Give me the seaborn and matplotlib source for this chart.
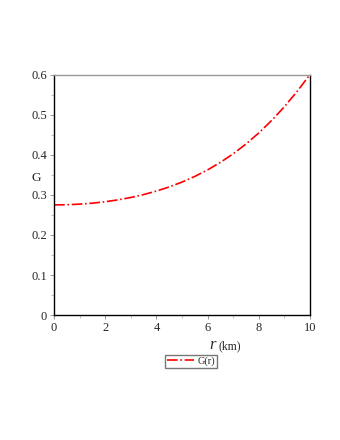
import numpy as np
import pandas as pd
import matplotlib
matplotlib.use("Agg")
import matplotlib.pyplot as plt
import seaborn as sns

# values
r_km = [0.0, 0.5, 1.0, 1.5, 2.0, 2.5, 3.0, 3.5, 4.0, 4.5, 5.0,
        5.5, 6.0, 6.5, 7.0, 7.5, 8.0, 8.5, 9.0, 9.5, 10.0]
G_vals = [0.2750, 0.2755, 0.2770, 0.2794, 0.2830, 0.2877, 0.2936, 0.3009,
          0.3096, 0.3200, 0.3321, 0.3463, 0.3626, 0.3814, 0.4029, 0.4273,
          0.4550, 0.4860, 0.5205, 0.5590, 0.6010]
x_ticks = [0, 2, 4, 6, 8, 10]
y_ticks = [0, 0.1, 0.2, 0.3, 0.4, 0.5, 0.6]

df = pd.DataFrame({"r": r_km, "G": G_vals})

sns.set_style("white")
plt.rcParams["font.family"] = ["Liberation Serif", "DejaVu Serif"]

fig = plt.figure(figsize=(3.4, 4.4), dpi=100)
ax = fig.add_axes([0.159, 0.284, 0.753, 0.546])

sns.lineplot(data=df, x="r", y="G", ax=ax, color="red", linestyle="-.",
             linewidth=1.2, label="G(r)", legend=False)

ax.set_xlim(0, 10)
ax.set_ylim(0, 0.6)
ax.set_xticks(x_ticks)
ax.set_xticklabels([str(t) for t in x_ticks])
ax.set_yticks(y_ticks)
ax.set_yticklabels(["0", "0.1", "0.2", "0.3", "0.4", "0.5", "0.6"])
ax.set_xticks([1, 3, 5, 7, 9], minor=True)
ax.set_yticks([0.05, 0.15, 0.25, 0.35, 0.45, 0.55], minor=True)
ax.tick_params(which="major", direction="out", length=3, width=0.6,
               color="#888888", labelsize=9, pad=2)
ax.tick_params(which="minor", direction="out", length=2, width=0.5,
               color="#aaaaaa")
ax.tick_params(axis="x", which="both", bottom=True)
ax.tick_params(axis="y", which="both", left=True)
ax.set_xlabel("")
ax.set_ylabel("")

for side in ["left", "bottom", "right"]:
    ax.spines[side].set_color("black")
    ax.spines[side].set_linewidth(1.0)
ax.spines["top"].set_color("#999999")
ax.spines["top"].set_linewidth(1.0)

# axis labels placed like the reference
fig.text(0.108, 0.595, "G", fontsize=9.5, ha="center", va="center")
fig.text(0.625, 0.215, "r", fontsize=12, style="italic", ha="center", va="center")
fig.text(0.675, 0.213, "(km)", fontsize=8.5, ha="center", va="center")

handles, labels = ax.get_legend_handles_labels()
fig.legend(handles, labels, loc="center", bbox_to_anchor=(0.562, 0.179),
           fontsize=7.5, frameon=True, fancybox=False, edgecolor="#555555",
           handlelength=2.6, borderpad=0.15, handletextpad=0.4,
           borderaxespad=0)

fig.savefig("out.png", dpi=100)
